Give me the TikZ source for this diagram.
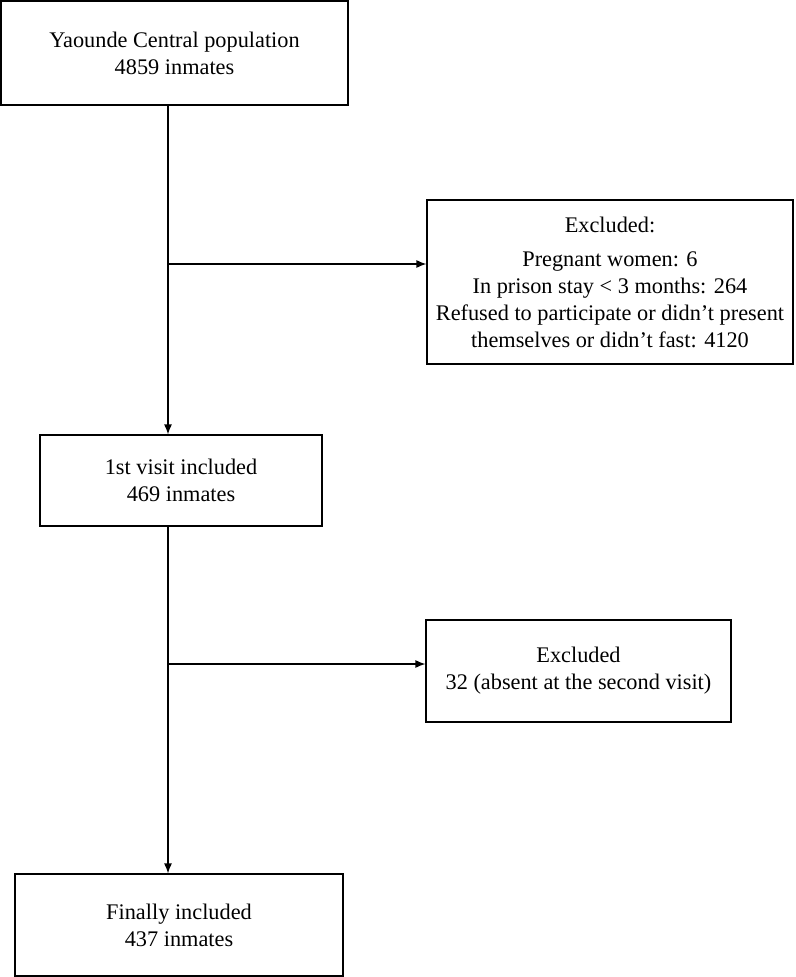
\documentclass[tikz,border=0pt]{standalone}
\usepackage{fontspec}
\setmainfont{Liberation Serif}
\usetikzlibrary{arrows.meta}

\begin{document}
\begin{tikzpicture}[x=1pt, y=-1pt,
    box/.style={draw, line width=1.2pt, inner sep=0pt, align=center,
        font=\fontsize{22.3}{27}\selectfont},
    flow/.style={line width=1.2pt, -{Latex[length=10pt, width=8pt]}}]
        \useasboundingbox (0,0) rectangle (795,977);

        % main column
        \node [box, minimum width=347pt, minimum height=104pt] (pop) at (174.5,53) {Yaounde Central population\\4859 inmates};
        \node [box, minimum width=282pt, minimum height=91pt] (visit1) at (181,480.5) {1st visit included\\469 inmates};
        \node [box, minimum width=328pt, minimum height=102pt] (final) at (179,925) {Finally included\\437 inmates};

        % exclusions
        \node [box, minimum width=366pt, minimum height=164pt] (excl1) at (610,282) {Excluded:\\[7pt]Pregnant women: 6\\In prison stay < 3 months: 264\\Refused to participate or didn't present\\themselves or didn't fast: 4120};
        \node [box, minimum width=305pt, minimum height=102pt] (excl2) at (578.5,671) {Excluded\\32 (absent at the second visit)};

        \coordinate (spine) at (168,0);
        \coordinate (br1) at (168,264);
        \coordinate (br2) at (168,664);

        \draw [flow] (pop.south -| spine) -- (visit1.north -| spine);
        \draw [flow] (visit1.south -| spine) -- (final.north -| spine);
        \draw [flow] (br1) -- (excl1.west |- br1);
        \draw [flow] (br2) -- (excl2.west |- br2);
    \end{tikzpicture}
\end{document}
